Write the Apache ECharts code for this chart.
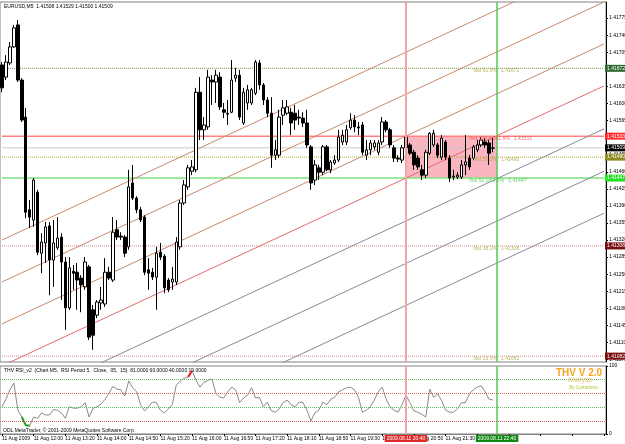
<!DOCTYPE html>
<html>
<head>
<meta charset="utf-8">
<script src="https://cdn.jsdelivr.net/npm/echarts@6/dist/echarts.min.js"></script>
<style>
html, body { margin: 0; padding: 0; background: #fff; }
#chart { width: 625px; height: 444px; }
</style>
</head>
<body>
<div id="chart"></div>
<script>
// EURUSD M5 bars, each [open, close, low, high]
var candles = [
  [1.41679,1.41632,1.41623,1.41685],[1.41654,1.41685,1.41648,1.41699],[1.41683,1.41716,1.41679,1.41726],
  [1.41716,1.41755,1.41714,1.41761],[1.41761,1.41648,1.41644,1.41771],[1.41648,1.41566,1.41562,1.41652],
  [1.41572,1.41377,1.41365,1.41591],[1.41382,1.41367,1.41345,1.41402],[1.41361,1.41443,1.41347,1.41447],
  [1.41418,1.41295,1.41289,1.41423],[1.41293,1.41316,1.41252,1.41334],[1.41314,1.41347,1.41273,1.41357],
  [1.41349,1.41279,1.41207,1.41357],[1.41279,1.41314,1.41224,1.41361],[1.41304,1.41324,1.41300,1.41367],
  [1.41326,1.41275,1.41197,1.41334],[1.41275,1.41181,1.41136,1.41285],[1.41181,1.41263,1.41177,1.41285],
  [1.41256,1.41252,1.41218,1.41269],[1.41254,1.41238,1.41177,1.41273],[1.41242,1.41228,1.41172,1.41248],
  [1.41224,1.41275,1.41218,1.41285],[1.41265,1.41121,1.41115,1.41269],[1.41177,1.41125,1.41095,1.41187],
  [1.41166,1.41193,1.41160,1.41197],[1.41191,1.41197,1.41177,1.41224],[1.41189,1.41254,1.41183,1.41283],
  [1.41254,1.41242,1.41238,1.41265],[1.41238,1.41336,1.41234,1.41367],[1.41341,1.41326,1.41320,1.41361],
  [1.41328,1.41326,1.41320,1.41336],[1.41326,1.41293,1.41285,1.41330],[1.41306,1.41429,1.41300,1.41464],
  [1.41437,1.41406,1.41402,1.41474],[1.41406,1.41382,1.41375,1.41410],[1.41382,1.41361,1.41357,1.41388],
  [1.41367,1.41254,1.41248,1.41371],[1.41259,1.41252,1.41218,1.41283],[1.41254,1.41244,1.41238,1.41263],
  [1.41244,1.41293,1.41177,1.41306],[1.41295,1.41285,1.41279,1.41314],[1.41287,1.41222,1.41211,1.41291],
  [1.41238,1.41218,1.41213,1.41242],[1.41234,1.41240,1.41218,1.41265],[1.41234,1.41316,1.41228,1.41326],
  [1.41306,1.41396,1.41300,1.41402],[1.41396,1.41433,1.41392,1.41443],[1.41429,1.41468,1.41423,1.41474],
  [1.41461,1.41470,1.41453,1.41484],[1.41464,1.41623,1.41459,1.41632],[1.41623,1.41546,1.41525,1.41654],
  [1.41546,1.41556,1.41525,1.41572],[1.41552,1.41654,1.41546,1.41669],[1.41648,1.41644,1.41597,1.41658],
  [1.41644,1.41658,1.41601,1.41669],[1.41654,1.41593,1.41587,1.41664],[1.41587,1.41582,1.41570,1.41601],
  [1.41580,1.41578,1.41556,1.41607],[1.41582,1.41648,1.41580,1.41689],[1.41652,1.41658,1.41644,1.41673],
  [1.41658,1.41572,1.41566,1.41669],[1.41560,1.41623,1.41556,1.41632],[1.41601,1.41628,1.41587,1.41638],
  [1.41601,1.41628,1.41597,1.41632],[1.41621,1.41685,1.41617,1.41689],[1.41683,1.41638,1.41628,1.41689],
  [1.41638,1.41607,1.41597,1.41642],[1.41607,1.41580,1.41572,1.41613],[1.41580,1.41494,1.41468,1.41613],
  [1.41494,1.41505,1.41484,1.41525],[1.41494,1.41572,1.41488,1.41587],[1.41576,1.41591,1.41556,1.41607],
  [1.41580,1.41593,1.41576,1.41607],[1.41582,1.41560,1.41535,1.41591],[1.41580,1.41566,1.41546,1.41597],
  [1.41572,1.41570,1.41556,1.41587],[1.41570,1.41560,1.41552,1.41582],[1.41560,1.41515,1.41509,1.41587],
  [1.41511,1.41437,1.41423,1.41515],[1.41443,1.41474,1.41433,1.41484],[1.41468,1.41459,1.41443,1.41474],
  [1.41459,1.41511,1.41453,1.41515],[1.41511,1.41464,1.41461,1.41515],[1.41464,1.41480,1.41457,1.41484],
  [1.41478,1.41484,1.41474,1.41494],[1.41484,1.41531,1.41480,1.41546],[1.41521,1.41535,1.41515,1.41546],
  [1.41521,1.41546,1.41515,1.41556],[1.41550,1.41566,1.41546,1.41580],[1.41566,1.41552,1.41541,1.41576],
  [1.41552,1.41550,1.41535,1.41562],[1.41556,1.41500,1.41494,1.41562],[1.41494,1.41505,1.41484,1.41525],
  [1.41505,1.41519,1.41494,1.41525],[1.41511,1.41519,1.41505,1.41525],[1.41500,1.41519,1.41494,1.41525],
  [1.41521,1.41562,1.41515,1.41572],[1.41562,1.41546,1.41541,1.41566],[1.41546,1.41515,1.41509,1.41550],
  [1.41509,1.41488,1.41480,1.41515],[1.41488,1.41486,1.41480,1.41494],[1.41484,1.41509,1.41478,1.41515],
  [1.41509,1.41531,1.41505,1.41539],[1.41515,1.41498,1.41494,1.41519],[1.41500,1.41474,1.41464,1.41505],
  [1.41488,1.41470,1.41464,1.41494],[1.41464,1.41453,1.41443,1.41474],[1.41453,1.41500,1.41447,1.41505],
  [1.41498,1.41539,1.41494,1.41541],[1.41515,1.41539,1.41511,1.41546],[1.41515,1.41494,1.41488,1.41519],
  [1.41490,1.41529,1.41484,1.41535],[1.41521,1.41490,1.41484,1.41525],[1.41488,1.41447,1.41439,1.41494],
  [1.41449,1.41451,1.41443,1.41464],[1.41449,1.41453,1.41445,1.41459],[1.41449,1.41474,1.41445,1.41484],
  [1.41474,1.41480,1.41453,1.41535],[1.41488,1.41470,1.41464,1.41494],[1.41488,1.41511,1.41484,1.41515],
  [1.41505,1.41515,1.41500,1.41525],[1.41515,1.41525,1.41511,1.41531],[1.41521,1.41515,1.41509,1.41529],
  [1.41519,1.41498,1.41474,1.41525],[1.41508,1.41509,1.41500,1.41529]
];

// THV RSI_v2 (period 5), one value per bar
var rsiValues = [
  40,51,65,75,35,25,13,12,25,23,31,28,28,36,35,31,23,40,38,38,
  40,46,25,38,40,44,51,60,70,66,65,56,78,68,62,43,34,40,47,46,
  35,31,37,43,72,78,82,84,93,79,69,76,79,81,60,54,53,62,69,65,
  46,53,57,68,53,54,40,47,34,32,37,46,50,43,40,47,46,35,19,31,
  35,47,43,51,54,62,65,68,69,65,54,32,35,40,50,62,69,51,40,35,
  32,43,57,46,34,32,29,25,66,54,59,49,35,32,32,37,46,46,59,65,
  69,71,62,51,50
];
var rsiLowBars = [5, 7];
var rsiHighBars = [47, 48];
var rsiLevels = [81, 60, 40, 19];

// time labels, one every 8 bars
var timeLabels = ['11 Aug 2009', '11 Aug 12:00', '11 Aug 13:20', '11 Aug 14:00', '11 Aug 14:50',
  '11 Aug 15:20', '11 Aug 16:00', '11 Aug 16:50', '11 Aug 17:20', '11 Aug 18:10', '11 Aug 18:50',
  '11 Aug 19:30', '11 Aug 20:10', '11 Aug 20:50', '11 Aug 21:30', '11 Aug 22:10'];

var priceTicks = [1.41075, 1.41110, 1.41145, 1.41180, 1.41215, 1.41250, 1.41285, 1.41320, 1.41355,
  1.41390, 1.41425, 1.41460, 1.41495, 1.41530, 1.41565, 1.41600, 1.41635, 1.41670, 1.41705, 1.41740, 1.41775];

// parallel channel lines: price at first bar and at last bar of the chart
var channelStart = [1.41320, 1.41234, 1.41148, 1.41062, 1.40974, 1.40887, 1.40801];
var channelEnd = [1.41894, 1.41808, 1.41722, 1.41636, 1.41548, 1.41461, 1.41375];

// horizontal levels
var levelPrices = [1.41672, 1.41533, 1.41509, 1.41490, 1.41447, 1.41308, 1.41082];

// fibo texts
var fiboTexts = ['fibo 61.8%   1.41672', 'fibo 50.0%   1.41490', 'fibo 38.2%   1.41308', 'fibo 23.6%   1.41082'];
var fiboTextPrices = [1.41672, 1.41490, 1.41308, 1.41082];
var firstTexts = ['first 100.0/161.8%   1.41533', 'first 50.0/61.8%   1.41447'];
var firstTextPrices = [1.41533, 1.41447];

// the two marked times
var markBars = [102, 125];
var markTimes = ['2009.08.11 20:40', '2009.08.11 22:40'];
var boxTop = 1.41533, boxBottom = 1.41447;

var barCount = 153;
var cats = [];
for (var i = 0; i < barCount; i++) cats.push('b' + i);

var FONT = 'Liberation Sans, Arial, sans-serif';
var channelColors = ['#c48a6a', '#c48a6a', '#c48a6a', '#e46a6a', '#7f8c99', '#7f8c99', '#7f8c99'];
var levelStyles = [
  { color: '#6e9a46', type: 'dotted', width: 1, bg: '#2e6a2e' },
  { color: '#ff8080', type: 'solid', width: 1.5, bg: '#ff2a2a' },
  { color: '#cccccc', type: 'solid', width: 1, bg: '#000000' },
  { color: '#b4a838', type: 'dotted', width: 1, bg: '#8e8a1e' },
  { color: '#80e080', type: 'solid', width: 1.5, bg: '#22e022' },
  { color: '#e08888', type: 'dotted', width: 1, bg: '#7a0c0c' },
  { color: '#e08888', type: 'dotted', width: 1, bg: '#7a0c0c' }
];
var firstColors = ['#e05050', '#3cc83c'];
var rsiLevelColors = ['#5cc05c', '#e46060', '#5cc05c', '#e46060'];
var markColors = ['#f4a4a4', '#55c855'];
var markLabelBg = ['#e02a2a', '#128a12'];

function barRange(r) {
  return rsiValues.map(function (v, i) { return (i >= r[0] && i <= r[1]) ? v : null; });
}

var series = [];

// pink box between the two marked times
series.push({
  type: 'line', xAxisIndex: 0, yAxisIndex: 0, data: [], z: 1, silent: true,
  markArea: {
    silent: true,
    itemStyle: { color: '#f9b6c0', opacity: 1 },
    data: [[{ xAxis: markBars[0], yAxis: boxTop }, { xAxis: markBars[1], yAxis: boxBottom }]]
  }
});

// horizontal price levels (flat lines across the whole chart)
levelPrices.forEach(function (p, k) {
  var s = levelStyles[k];
  series.push({
    type: 'line', xAxisIndex: 0, yAxisIndex: 0, z: 2, silent: true,
    showSymbol: false, symbol: 'none',
    lineStyle: { color: s.color, type: s.type, width: s.width },
    data: [[0, p], [barCount - 1, p]],
    endLabel: {
      show: true, distance: 1, formatter: p.toFixed(5), color: '#fff', backgroundColor: s.bg,
      fontSize: 5, fontFamily: FONT, padding: [1, 2]
    }
  });
});

// channel lines
channelStart.forEach(function (p, k) {
  series.push({
    type: 'line', xAxisIndex: 0, yAxisIndex: 0, z: 2, silent: true,
    showSymbol: false, symbol: 'none', clip: true,
    lineStyle: { color: channelColors[k], width: 1 },
    data: [[0, p], [barCount - 1, channelEnd[k]]]
  });
});

// candles, with the two time lines
series.push({
  type: 'candlestick', xAxisIndex: 0, yAxisIndex: 0, z: 4, barWidth: 3,
  data: candles,
  itemStyle: { color: '#ffffff', color0: '#000000', borderColor: '#000000', borderColor0: '#000000', borderWidth: 1 },
  markLine: {
    silent: true, animation: false, symbol: ['none', 'none'],
    data: markBars.map(function (b, k) {
      return {
        xAxis: b,
        lineStyle: { color: markColors[k], type: 'solid', width: k === 0 ? 2 : 1.5 },
        label: { show: false }
      };
    })
  }
});

// fibo texts
series.push({
  type: 'scatter', xAxisIndex: 0, yAxisIndex: 0, z: 5, symbolSize: 0, silent: true,
  data: fiboTextPrices.map(function (p) { return [119, p]; }),
  label: {
    show: true, position: [0, 0], align: 'left', verticalAlign: 'top',
    color: '#aaa23c', fontSize: 5, fontFamily: FONT,
    formatter: function (d) { return fiboTexts[d.dataIndex]; }
  }
});
series.push({
  type: 'scatter', xAxisIndex: 0, yAxisIndex: 0, z: 5, symbolSize: 0, silent: true,
  data: firstTextPrices.map(function (p, k) {
    return { value: [118, p], label: { color: firstColors[k] } };
  }),
  label: {
    show: true, position: [0, 0], align: 'left', verticalAlign: 'top', fontSize: 5, fontFamily: FONT,
    formatter: function (d) { return firstTexts[d.dataIndex]; }
  }
});

// RSI panel
series.push({
  type: 'line', xAxisIndex: 1, yAxisIndex: 1, data: rsiValues, z: 3,
  showSymbol: false, symbol: 'none', lineStyle: { color: '#8a8a8a', width: 1 },
  markLine: {
    silent: true, symbol: ['none', 'none'], animation: false,
    data: rsiLevels.map(function (v, k) {
      return { yAxis: v, lineStyle: { color: rsiLevelColors[k], type: 'dotted', width: 1 }, label: { show: false } };
    }).concat(markBars.map(function (b, k) {
      return {
        xAxis: b, lineStyle: { color: markColors[k], type: 'solid', width: k === 0 ? 2 : 1.5 },
        label: {
          show: true, position: 'start', distance: 1, formatter: markTimes[k],
          color: '#fff', backgroundColor: markLabelBg[k], fontSize: 5, fontFamily: FONT, padding: [1, 2]
        }
      };
    }))
  }
});
series.push({
  type: 'line', xAxisIndex: 1, yAxisIndex: 1, data: barRange(rsiLowBars), z: 4,
  showSymbol: false, symbol: 'none', lineStyle: { color: '#1fa01f', width: 2 }
});
series.push({
  type: 'line', xAxisIndex: 1, yAxisIndex: 1, data: barRange(rsiHighBars), z: 4,
  showSymbol: false, symbol: 'none', lineStyle: { color: '#e81e1e', width: 2 }
});

var option = {
  animation: false,
  backgroundColor: '#ffffff',
  textStyle: { fontFamily: FONT },
  grid: [
    { left: 0, top: 2, width: 606, height: 360, show: true, borderColor: '#808080', borderWidth: 1,
      backgroundColor: 'transparent', outerBoundsMode: 'none', containLabel: false },
    { left: 0, top: 366, width: 606, height: 68, show: true, borderColor: '#808080', borderWidth: 1,
      backgroundColor: 'transparent', outerBoundsMode: 'none', containLabel: false }
  ],
  xAxis: [
    { type: 'category', gridIndex: 0, data: cats, boundaryGap: true,
      axisLine: { show: false }, axisTick: { show: false }, axisLabel: { show: false }, splitLine: { show: false } },
    { type: 'category', gridIndex: 1, data: cats, boundaryGap: true,
      axisLine: { show: true, lineStyle: { color: '#808080' } },
      axisTick: { show: true, interval: 7, alignWithLabel: true, length: 2, lineStyle: { color: '#000' } },
      axisLabel: {
        show: true, interval: 7, align: 'left', margin: 2, fontSize: 5, color: '#000', fontFamily: FONT,
        formatter: function (v, idx) { var k = idx / 8; return timeLabels[k] || ''; }
      },
      splitLine: { show: false } }
  ],
  yAxis: [
    { type: 'value', gridIndex: 0, position: 'right', min: 1.41070, max: 1.41808, scale: true,
      axisLine: { show: true, lineStyle: { color: '#000' } },
      axisTick: { show: true, customValues: priceTicks, length: 2, lineStyle: { color: '#000' } },
      axisLabel: { show: true, customValues: priceTicks, margin: 3, fontSize: 5, color: '#000', fontFamily: FONT,
        formatter: function (v) { return v.toFixed(5); } },
      splitLine: { show: false } },
    { type: 'value', gridIndex: 1, position: 'right', min: 0, max: 100,
      axisLine: { show: true, lineStyle: { color: '#000' } },
      axisTick: { show: true, customValues: [0, 100], length: 2, lineStyle: { color: '#000' } },
      axisLabel: { show: true, customValues: [0, 100], margin: 3, fontSize: 5, color: '#000', fontFamily: FONT },
      splitLine: { show: false } }
  ],
  graphic: [
    { type: 'text', left: 4, top: 4, style: { text: 'EURUSD,M5  1.41508 1.41529 1.41500 1.41509', fontSize: 5, fontFamily: FONT, fill: '#000' } },
    { type: 'text', left: 4, top: 368, style: { text: 'THV RSI_v2  (Chart M5,  RSI Period 5,  Close,  05,  15)  81.0000 60.0000 40.0000 19.0000', fontSize: 5, fontFamily: FONT, fill: '#000' } },
    { type: 'text', left: 3, top: 428, style: { text: 'ODL MetaTrader, \u00a9 2001-2009 MetaQuotes Software Corp.', fontSize: 5, fontFamily: FONT, fill: '#000' } },
    { type: 'text', x: 579, y: 368, style: { text: 'THV V 2.0', fontSize: 10, fontWeight: 'bold', fontFamily: FONT, fill: '#f7a21e', align: 'center' } },
    { type: 'text', x: 580, y: 377, style: { text: 'Analyse', fontSize: 7, fontFamily: FONT, fill: '#f3c272', align: 'center' } },
    { type: 'text', x: 584, y: 385, style: { text: 'By Cobraforex', fontSize: 4.5, fontFamily: FONT, fill: '#b4c23c', align: 'center' } }
  ],
  series: series
};

var chart = echarts.init(document.getElementById('chart'));
chart.setOption(option);
</script>
</body>
</html>
